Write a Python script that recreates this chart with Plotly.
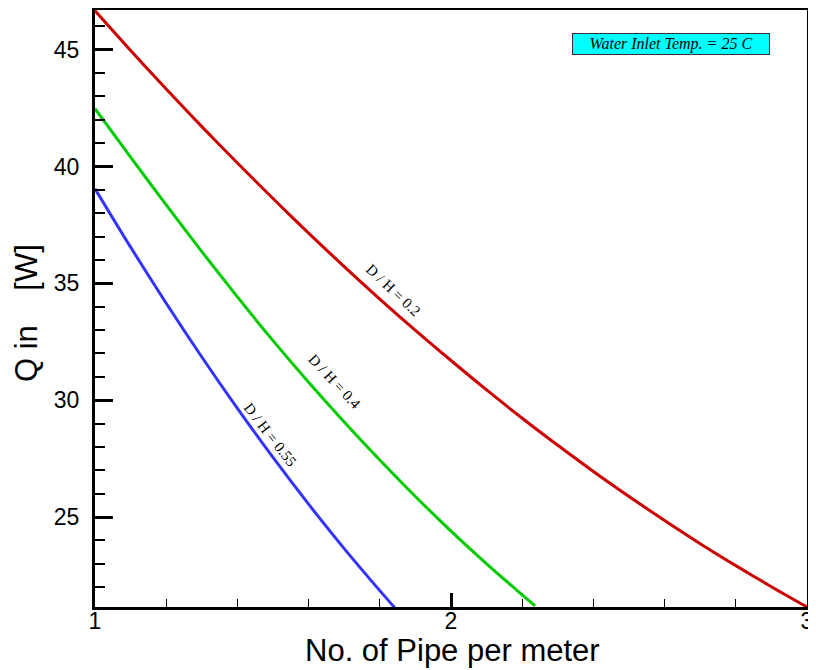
import plotly.graph_objects as go

# Data
x_red = [1.0, 1.1, 1.2, 1.3, 1.4, 1.5, 1.6, 1.7, 1.8, 1.9, 2.0, 2.1, 2.2, 2.3, 2.4, 2.5, 2.6, 2.7, 2.8, 2.9, 3.0]
y_red = [46.67, 44.97, 43.32, 41.71, 40.15, 38.63, 37.15, 35.72, 34.33, 32.99, 31.70, 30.44, 29.23, 28.07,
         26.95, 25.88, 24.85, 23.86, 22.92, 22.02, 21.15]

x_green = [1.0, 1.1, 1.2, 1.3, 1.4, 1.5, 1.6, 1.7, 1.8, 1.9, 2.0, 2.1, 2.2, 2.236]
y_green = [42.48, 40.40, 38.36, 36.36, 34.42, 32.55, 30.77, 29.07, 27.44, 25.88, 24.4, 23.0, 21.67, 21.2]

x_blue = [1.0, 1.1, 1.2, 1.3, 1.4, 1.5, 1.6, 1.7, 1.8, 1.843]
y_blue = [39.05, 36.55, 34.15, 31.85, 29.65, 27.55, 25.55, 23.65, 21.85, 21.1]

series_names = ["D / H = 0.2", "D / H = 0.4", "D / H = 0.55"]
series_colors = ["#cc0000", "#00cc00", "#3333ff"]
label_pos = [(1.837, 34.70, 43), (1.674, 30.77, 47), (1.492, 28.50, 52)]

x_ticks = [1, 2, 3]
y_ticks = [25, 30, 35, 40, 45]

# page offset of the plot div (default body margin of the html page)
OFF = 8
W, H = 816 - OFF, 670 - OFF
# plot area in page pixels: x 95..807, y 10..607
PL, PR, PT, PB = 95, 807, 10, 607
ML, MR, MT, MB = PL - OFF, W - (PR - OFF), PT - OFF, H - (PB - OFF)
PW, PH = PR - PL, PB - PT


def px_x(p):
    return (p - PL) / PW


def px_y(p):
    return 1 - (p - PT) / PH


fig = go.Figure()
for xs, ys, name, col in zip([x_red, x_green, x_blue], [y_red, y_green, y_blue], series_names, series_colors):
    fig.add_trace(go.Scatter(x=xs, y=ys, mode="lines", name=name,
                             line=dict(color=col, width=3, shape="spline", smoothing=0.8),
                             showlegend=False))

for (lx, ly, ang), name in zip(label_pos, series_names):
    fig.add_annotation(x=lx, y=ly, xref="x", yref="y", text=name, showarrow=False,
                       textangle=ang, font=dict(family="Liberation Serif", size=15, color="black"))

fig.add_annotation(x=px_x(770), y=px_y(44), xref="paper", yref="paper",
                   text="<i>Water Inlet Temp. = 25 C</i>",
                   showarrow=False, font=dict(family="Liberation Serif", size=16, color="black"),
                   bgcolor="#00ffff", bordercolor="#333333", borderwidth=1, borderpad=0,
                   width=196, height=20, align="center",
                   xanchor="right", yanchor="middle")

# axis titles
fig.add_annotation(x=px_x(453), y=px_y(650), xref="paper", yref="paper",
                   text="No. of Pipe per meter", showarrow=False,
                   font=dict(family="Liberation Sans", size=31, color="black"),
                   xanchor="center", yanchor="middle")
fig.add_annotation(x=px_x(26), y=px_y(313), xref="paper", yref="paper",
                   text="Q in&nbsp;&nbsp;&nbsp;&nbsp;[W]", showarrow=False, textangle=-90,
                   font=dict(family="Liberation Sans", size=31, color="black"),
                   xanchor="center", yanchor="middle", borderpad=0)

fig.update_layout(
    width=W, height=H,
    margin=dict(l=ML, r=MR, t=MT, b=MB),
    paper_bgcolor="white", plot_bgcolor="white",
    font=dict(family="Liberation Sans", size=23, color="black"),
)

fig.update_xaxes(range=[1, 3], tickvals=x_ticks, ticktext=[str(v) for v in x_ticks],
                 ticks="inside", ticklen=14, tickwidth=2.5, tickcolor="black",
                 minor=dict(dtick=0.2, tick0=1, ticks="inside", ticklen=8, tickwidth=1.2, tickcolor="black"),
                 showline=True, linewidth=3, linecolor="black", mirror=True, showgrid=False, zeroline=False,
                 automargin=False, ticklabelstandoff=-9)
fig.update_yaxes(range=[21.15, 46.7], tickvals=y_ticks, ticktext=[str(v) for v in y_ticks],
                 ticks="inside", ticklen=18, tickwidth=3, tickcolor="black",
                 minor=dict(dtick=1, tick0=25, ticks="inside", ticklen=10, tickwidth=1.5, tickcolor="black"),
                 showline=True, linewidth=3, linecolor="black", mirror=True, showgrid=False, zeroline=False,
                 automargin=False, ticklabelstandoff=8)

fig.write_html("out.html")
